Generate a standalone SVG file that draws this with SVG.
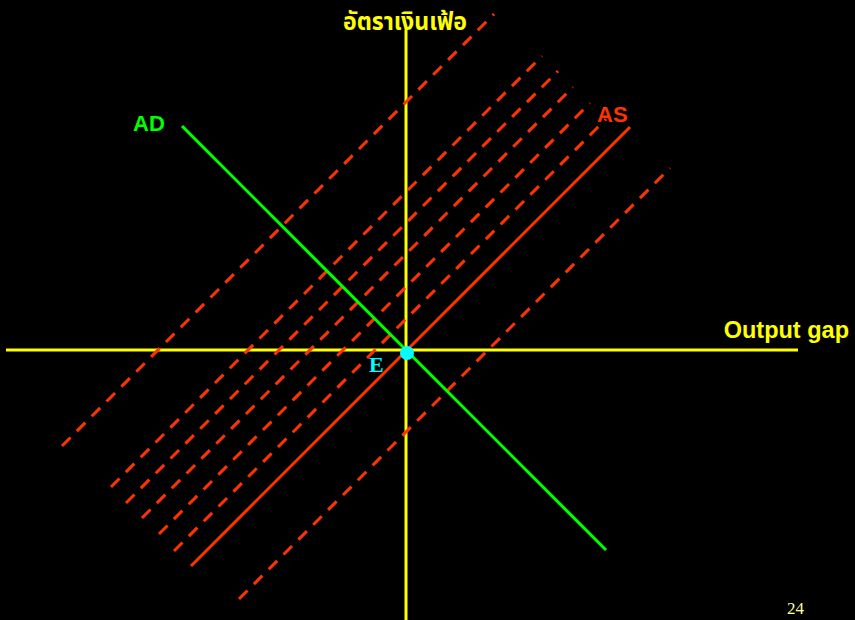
<svg xmlns="http://www.w3.org/2000/svg" width="855" height="620" viewBox="0 0 855 620">
<style>
.axis{stroke:#FFFF00;stroke-width:3;fill:none}
.as{stroke:#FF3300;stroke-width:3;fill:none}
.shift{stroke:#FF3300;stroke-width:3;fill:none;stroke-dasharray:12 9}
.ad{stroke:#00FF00;stroke-width:3;fill:none}
.lbl{font-family:"Liberation Sans",Arial,sans-serif;font-weight:bold;font-size:22px}
</style>
<rect width="855" height="620" fill="#000000"/>
<g id="connectors">
<line class="axis" x1="6" y1="350" x2="798" y2="350"/>
<line class="axis" x1="406" y1="30" x2="406" y2="620"/>
<line class="shift" x1="62" y1="446" x2="494" y2="14"/>
<line class="shift" x1="111" y1="487" x2="542" y2="56"/>
<line class="shift" x1="126" y1="503" x2="558" y2="71"/>
<line class="shift" x1="142" y1="518" x2="573" y2="87"/>
<line class="shift" x1="159" y1="534" x2="590" y2="103"/>
<line class="shift" x1="174" y1="551" x2="606" y2="119"/>
<line class="shift" x1="239" y1="599" x2="670" y2="168"/>
<line class="as" x1="191" y1="566" x2="630" y2="127"/>
<line class="ad" x1="182" y1="126" x2="606" y2="550"/>
</g>
<g id="title">
<text x="343" y="30" textLength="124" lengthAdjust="spacingAndGlyphs" fill="#FFFF00" font-family="'Noto Sans Thai','Noto Sans','DejaVu Sans',sans-serif" font-weight="bold" font-size="24">อัตราเงินเฟ้อ</text>
</g>
<g id="ad-label"><text class="lbl" x="133" y="131" fill="#00FF00">AD</text></g>
<g id="as-label"><text class="lbl" x="597" y="122" fill="#FF3300">AS</text></g>
<g id="output-label"><text class="lbl" x="849" y="338" text-anchor="end" fill="#FFFF00" style="font-size:23.5px">Output gap</text></g>
<g id="E">
<circle cx="407" cy="353" r="7" fill="#00FFFF"/>
<text x="369" y="372" fill="#00FFFF" font-family="'Liberation Serif','Times New Roman',serif" font-weight="bold" font-size="22">E</text>
</g>
<g id="page"><text x="787" y="614" fill="#FFFF99" font-family="'Liberation Serif','Times New Roman',serif" font-size="17">24</text></g>
</svg>
